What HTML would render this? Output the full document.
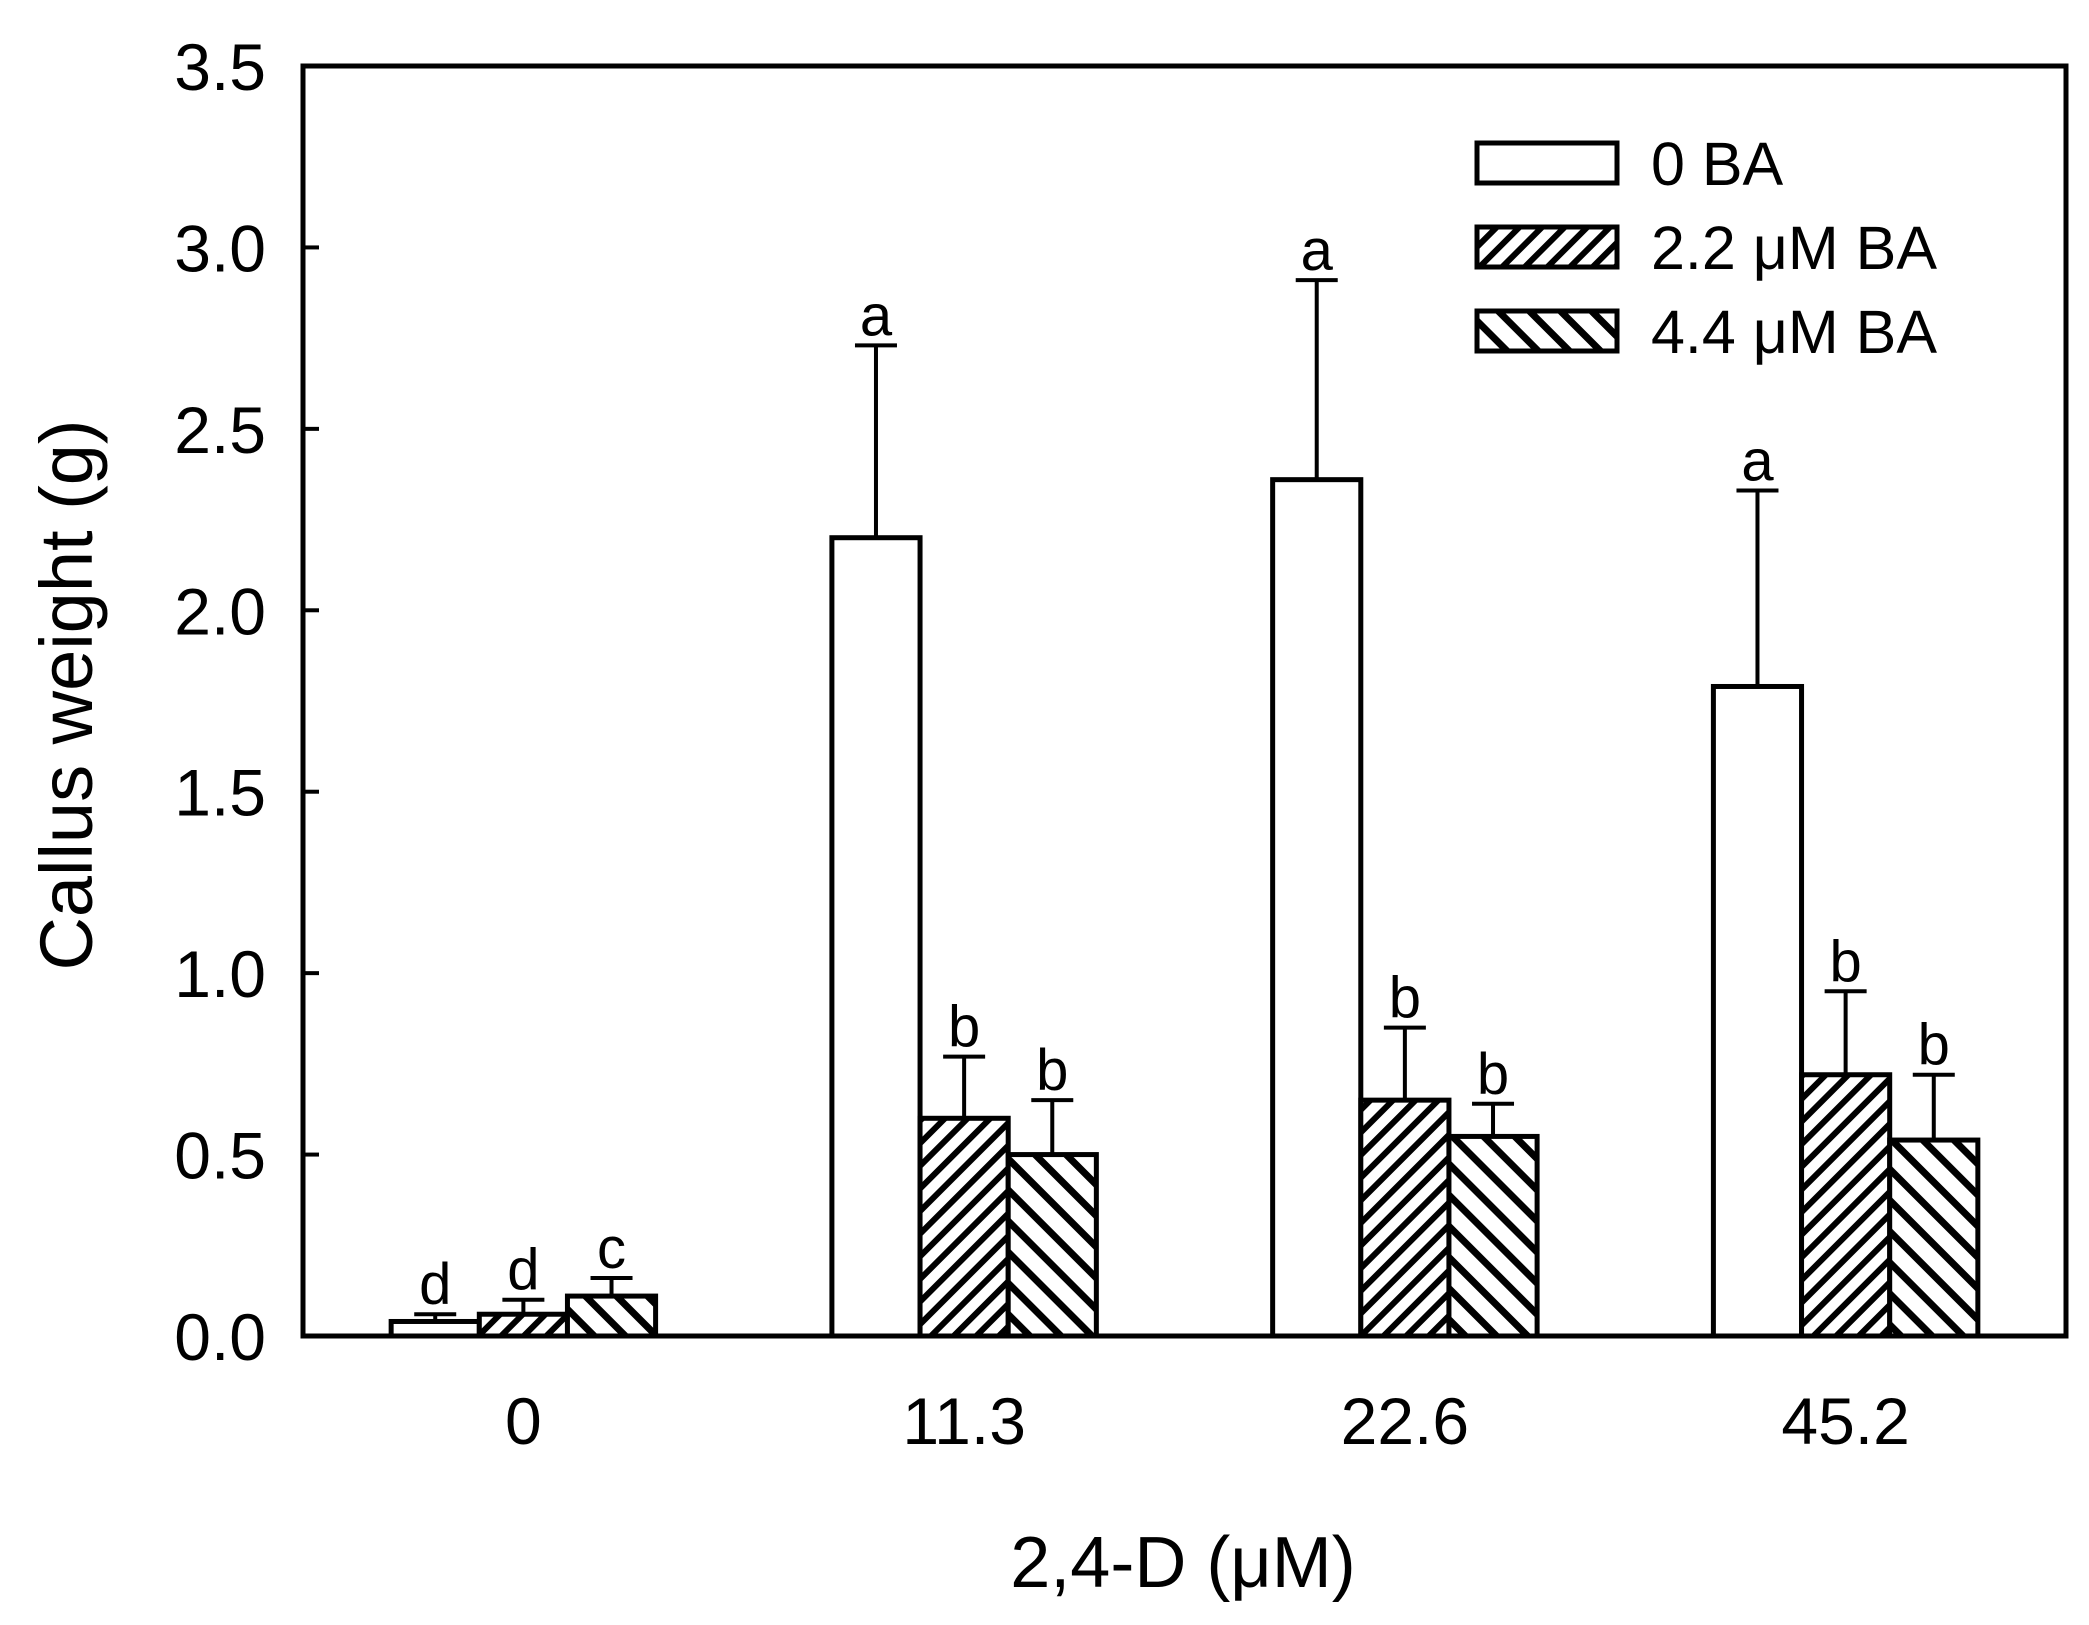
<!DOCTYPE html>
<html><head><meta charset="utf-8"><style>
html,body{margin:0;padding:0;background:#fff;}
svg{display:block;font-family:"Liberation Sans",Arial,sans-serif;}
</style></head><body>
<svg id="chart" width="2089" height="1625" viewBox="0 0 2089 1625" xmlns="http://www.w3.org/2000/svg">
<defs>
<pattern id="hatchA" patternUnits="userSpaceOnUse" width="16" height="16" patternTransform="rotate(45)">
<rect width="16" height="16" fill="#fff"/><rect x="0" y="0" width="6" height="16" fill="#000"/></pattern>
<pattern id="hatchB" patternUnits="userSpaceOnUse" width="22" height="22" patternTransform="rotate(-45)">
<rect width="22" height="22" fill="#fff"/><rect x="0" y="0" width="7" height="22" fill="#000"/></pattern>
</defs>
<g id="plot"></g>
</svg>
<script>
const categories = ["0","11.3","22.6","45.2"];
const seriesNames = ["0 BA","2.2 \u03bcM BA","4.4 \u03bcM BA"];
const series0 = [0.04,2.20,2.36,1.79];
const series1 = [0.06,0.60,0.65,0.72];
const series2 = [0.11,0.50,0.55,0.54];
const err0 = [0.06,2.73,2.91,2.33];
const err1 = [0.10,0.77,0.85,0.95];
const err2 = [0.16,0.65,0.64,0.72];
const letters0 = ["d","a","a","a"];
const letters1 = ["d","b","b","b"];
const letters2 = ["c","b","b","b"];
const yTicks = ["0.0","0.5","1.0","1.5","2.0","2.5","3.0","3.5"];

const NS="http://www.w3.org/2000/svg";
const g=document.getElementById('plot');
const L=303,R=2066,T=66,B=1336,yMax=3.5;
const y=v=>B-(v/yMax)*(B-T);
const band=(R-L)/categories.length;
const bw=band*0.2;
const x=(i,s)=>L+band*i+band/2-1.5*bw+s*bw;
function el(tag,attrs,parent){const e=document.createElementNS(NS,tag);for(const k in attrs)e.setAttribute(k,attrs[k]);(parent||g).appendChild(e);return e;}
const fills=["#fff","url(#hatchA)","url(#hatchB)"];
const vals=[series0,series1,series2], errs=[err0,err1,err2], lets=[letters0,letters1,letters2];
yTicks.forEach(t=>{const v=parseFloat(t);
 const tk=el('line',{x1:L,x2:L+16,y1:y(v),y2:y(v),stroke:'#000','stroke-width':4});
 
 
 const tx=el('text',{x:266,y:y(v)+24,'text-anchor':'end','font-size':66});tx.textContent=t;
 
 
});
categories.forEach((c,i)=>{
 for(let s=0;s<3;s++){
  const x0=x(i,s),v=vals[s][i],e=errs[s][i],cx=x0+bw/2;
  const eb=el('path',{d:`M${cx} ${y(v)} V${y(e)} M${cx-21} ${y(e)} H${cx+21}`,stroke:'#000','stroke-width':4,fill:'none'});
  
  
  const r=el('rect',{x:x0,y:y(v),width:bw,height:B-y(v),fill:fills[s],stroke:'#000','stroke-width':5});
  
  
  const lt=el('text',{x:cx,y:y(e)-10,'text-anchor':'middle','font-size':58});lt.textContent=lets[s][i];
  
  
 }
 const xl=el('text',{x:L+band*i+band/2,y:1444,'text-anchor':'middle','font-size':66});xl.textContent=c;
 
 
});
const fr=el('rect',{x:L,y:T,width:R-L,height:B-T,fill:'none',stroke:'#000','stroke-width':5});


seriesNames.forEach((n,s)=>{
 const ly=143+s*84;
 const b=el('rect',{x:1477,y:ly,width:140,height:40,fill:fills[s],stroke:'#000','stroke-width':5});
 
 
 const t=el('text',{x:1651,y:ly+42,'font-size':61});t.textContent=n;
 
 
});
const xt=el('text',{x:1183,y:1587,'text-anchor':'middle','font-size':72});xt.textContent="2,4-D (\u03bcM)";


const yt=el('text',{x:0,y:0,'text-anchor':'middle','font-size':74,transform:'translate(92,695) rotate(-90)'});yt.textContent="Callus weight (g)";


</script>
</body></html>
